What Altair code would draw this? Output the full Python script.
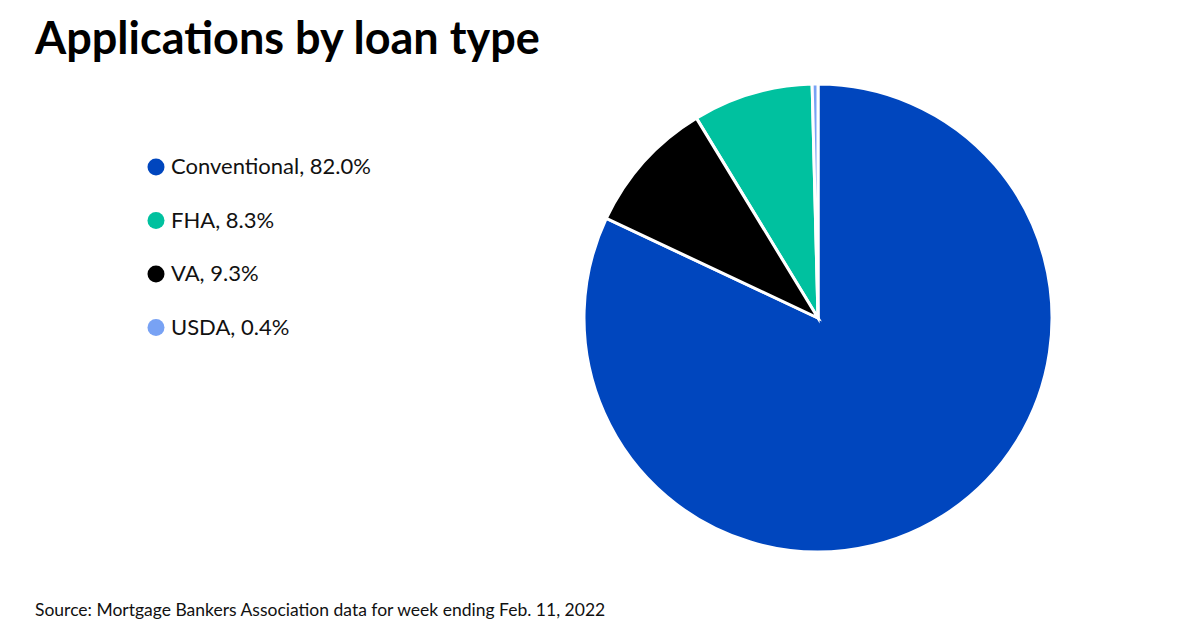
import altair as alt
import pandas as pd

# Data
loan_types = ["Conventional", "FHA", "VA", "USDA"]
shares = [82.0, 8.3, 9.3, 0.4]
pie_order = [0, 2, 1, 3]  # clockwise from 12 o'clock: Conventional, VA, FHA, USDA
colors = ["#0046BE", "#00C19F", "#000000", "#78A2F4"]

title_text = "Applications by loan type"
source_text = "Source: Mortgage Bankers Association data for week ending Feb. 11, 2022"

labels = [f"{n}, {v:.1f}%" for n, v in zip(loan_types, shares)]
df = pd.DataFrame({"label": labels, "share": shares, "order": pie_order})

FONT = "Lato"

pie = alt.Chart(df).mark_arc(
    radius=234, stroke="white", strokeWidth=3
).encode(
    theta=alt.Theta("share:Q", stack=True),
    order=alt.Order("order:Q"),
    color=alt.Color(
        "label:N",
        scale=alt.Scale(domain=labels, range=colors),
        legend=alt.Legend(
            title=None,
            orient="none",
            legendX=137,
            legendY=148,
            symbolType="circle",
            symbolSize=289,
            symbolStrokeWidth=0,
            labelFont=FONT,
            labelFontSize=22,
            labelColor="#111111",
            labelOffset=4,
            rowPadding=31.5,
            labelLimit=400,
        ),
    ),
    x=alt.value(810),
    y=alt.value(310),
)

title = alt.Chart(pd.DataFrame({"t": [title_text]})).mark_text(
    font=FONT, fontSize=45, fontWeight="bold", align="left", baseline="alphabetic", color="#000000"
).encode(text="t:N", x=alt.value(27), y=alt.value(46))

source = alt.Chart(pd.DataFrame({"t": [source_text]})).mark_text(
    font=FONT, fontSize=17.5, align="left", baseline="alphabetic", color="#111111"
).encode(text="t:N", x=alt.value(27), y=alt.value(608))

chart = alt.layer(pie, title, source).properties(
    width=1184, height=614, padding=0, background="white",
    autosize=alt.AutoSizeParams(type="none")
).configure_view(strokeWidth=0, stroke="transparent")

chart.save("out.html", embed_options={"renderer": "svg", "actions": False})
